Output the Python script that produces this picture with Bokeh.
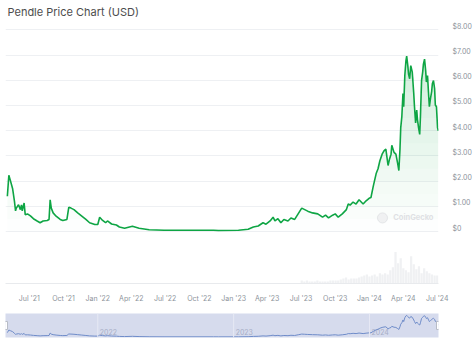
from datetime import datetime
import numpy as np
import pandas as pd
from bokeh.plotting import figure
from bokeh.models import (Range1d, FixedTicker, CustomJSTickFormatter, DatetimeTickFormatter,
                          Span, Label)
from bokeh.layouts import column
from bokeh.embed import file_html
from bokeh.resources import INLINE
from bokeh.core.properties import value

# ---------------- data ----------------
price_dates = [
    "2021-05-03", "2021-05-07", "2021-05-11", "2021-05-17", "2021-05-22", "2021-05-25",
    "2021-05-27", "2021-06-02", "2021-06-07", "2021-06-10", "2021-06-12", "2021-06-17",
    "2021-06-20", "2021-06-26", "2021-07-04", "2021-07-12", "2021-07-22", "2021-07-30",
    "2021-08-07", "2021-08-18", "2021-08-23", "2021-08-26", "2021-08-29", "2021-09-03",
    "2021-09-11", "2021-09-22", "2021-09-29", "2021-10-10", "2021-10-15", "2021-10-21",
    "2021-10-29", "2021-11-08", "2021-11-19", "2021-11-30", "2021-12-10", "2021-12-24",
    "2022-01-01", "2022-01-06", "2022-01-14", "2022-01-22", "2022-01-27", "2022-02-07",
    "2022-02-20", "2022-02-28", "2022-03-14", "2022-04-04", "2022-04-22", "2022-05-19",
    "2022-06-28", "2022-09-03", "2022-11-08", "2022-11-21", "2023-01-14", "2023-02-09",
    "2023-02-23", "2023-03-08", "2023-03-21", "2023-03-29", "2023-04-09", "2023-04-17",
    "2023-04-22", "2023-04-30", "2023-05-08", "2023-05-16", "2023-05-27", "2023-06-04",
    "2023-06-14", "2023-06-25", "2023-07-03", "2023-07-11", "2023-07-19", "2023-08-01",
    "2023-08-15", "2023-08-28", "2023-09-05", "2023-09-13", "2023-09-24", "2023-10-01",
    "2023-10-09", "2023-10-20", "2023-10-31", "2023-11-05", "2023-11-10", "2023-11-18",
    "2023-11-26", "2023-12-04", "2023-12-15", "2023-12-23", "2023-12-31", "2024-01-05",
    "2024-01-11", "2024-01-19", "2024-01-24", "2024-01-29", "2024-02-04", "2024-02-09",
    "2024-02-14", "2024-02-20", "2024-02-24", "2024-02-28", "2024-03-01", "2024-03-07",
    "2024-03-12", "2024-03-17", "2024-03-20", "2024-03-23", "2024-03-25", "2024-03-28",
    "2024-03-31", "2024-04-02", "2024-04-05", "2024-04-08", "2024-04-10", "2024-04-13",
    "2024-04-15", "2024-04-18", "2024-04-21", "2024-04-25", "2024-04-29", "2024-05-01",
    "2024-05-04", "2024-05-07", "2024-05-09", "2024-05-12", "2024-05-15", "2024-05-17",
    "2024-05-20", "2024-05-23", "2024-05-25", "2024-05-28", "2024-05-31", "2024-06-02",
    "2024-06-05", "2024-06-08", "2024-06-10", "2024-06-13", "2024-06-16", "2024-06-18",
    "2024-06-21", "2024-06-24", "2024-06-26", "2024-06-29", "2024-07-02", "2024-07-04",
]
prices = [
    1.40, 2.23, 2.03, 1.71, 1.21, 0.82,
    0.93, 1.06, 0.87, 1.06, 0.82, 1.13,
    0.67, 0.70, 0.62, 0.51, 0.42, 0.35,
    0.42, 0.44, 0.48, 1.26, 0.93, 0.74,
    0.61, 0.48, 0.44, 0.48, 0.96, 0.93,
    0.87, 0.74, 0.61, 0.48, 0.35, 0.28,
    0.28, 0.57, 0.44, 0.35, 0.42, 0.30,
    0.26, 0.18, 0.13, 0.21, 0.13, 0.07,
    0.05, 0.05, 0.05, 0.04, 0.05, 0.09,
    0.18, 0.22, 0.35, 0.29, 0.42, 0.57,
    0.42, 0.51, 0.35, 0.48, 0.42, 0.54,
    0.48, 0.74, 0.93, 0.87, 0.81, 0.74,
    0.70, 0.57, 0.65, 0.54, 0.65, 0.70,
    0.57, 0.70, 0.87, 1.09, 1.05, 1.17,
    1.09, 1.26, 1.09, 1.22, 1.32, 1.35,
    1.78, 2.30, 2.49, 2.81, 3.07, 3.20,
    3.27, 2.62, 2.88, 3.07, 3.42, 3.14,
    3.07, 2.68, 2.42, 3.27, 4.11, 4.56,
    5.47, 4.95, 6.19, 6.77, 6.96, 6.58,
    6.25, 6.06, 6.58, 6.32, 5.47, 4.95,
    4.31, 4.82, 4.44, 4.11, 3.85, 4.56,
    5.99, 6.32, 6.64, 6.84, 6.38, 5.93,
    6.19, 5.41, 4.95, 5.28, 5.54, 5.86,
    5.99, 5.67, 5.02, 4.95, 4.11, 4.00,
]

vol_dates = list(pd.date_range("2023-07-03", "2024-07-01", freq="7D").strftime("%Y-%m-%d"))
volumes = [  # USD millions (estimated)
    30, 20, 30, 20, 20, 20, 30, 20, 20, 20, 20, 30, 30, 30, 30, 40,
    50, 60, 40, 50, 50, 50, 60, 70, 80, 90, 70, 80, 90, 70, 100, 90,
    100, 90, 130, 160, 310, 200, 250, 150, 130, 110, 270, 190, 140, 170,
    100, 150, 120, 100, 90, 80, 80,
][:len(vol_dates)]

x_tick_dates = ["2021-07-01", "2021-10-01", "2022-01-01", "2022-04-01", "2022-07-01",
                "2022-10-01", "2023-01-01", "2023-04-01", "2023-07-01", "2023-10-01",
                "2024-01-01", "2024-04-01", "2024-07-01"]
y_ticks = [0, 1, 2, 3, 4, 5, 6, 7, 8]
nav_years = ["2022-01-01", "2023-01-01", "2024-01-01"]
nav_year_labels = ["2022", "2023", "2024"]

TITLE = "Pendle Price Chart (USD)"

# ---------------- helpers ----------------
def to_ms(s):
    return (datetime.fromisoformat(s) - datetime(1970, 1, 1)).total_seconds() * 1000.0

dts = pd.to_datetime(price_dates)
p_arr = np.array(prices)
vdts = pd.to_datetime(vol_dates)

FONT = "Inter"
GREEN = "#0ea544"
LABEL_C = "#8d939b"

x_start = datetime(2021, 4, 28)
x_end = datetime(2024, 7, 4, 12)

# ---------------- main chart ----------------
p = figure(width=474, height=305, x_axis_type="datetime", y_axis_location="right",
           x_range=Range1d(x_start, x_end), y_range=Range1d(-2.06, 8.33),
           toolbar_location=None, output_backend="svg",
           min_border_left=5, min_border_right=32, min_border_top=20, min_border_bottom=18)
p.outline_line_color = None
p.background_fill_color = "white"
p.border_fill_color = "white"

p.title.text = TITLE
p.title.text_font = FONT
p.title.text_font_size = "11px"
p.title.text_font_style = "normal"
p.title.text_color = "#4d4d4d"
p.title.offset = 2
p.title.standoff = 5

p.extra_y_ranges = {"vol": Range1d(0, max(volumes) * 8.34)}

# volume
p.vbar(x=vdts, top=volumes, width=6 * 86400000, y_range_name="vol",
       fill_color="#f0f1f3", line_color=None)

# gradient area (stacked bands)
step = 0.5
for i in range(16):
    lo = i * step
    top = np.clip(p_arr, lo, lo + step)
    p.varea(x=dts, y1=lo, y2=top, fill_color=GREEN, fill_alpha=0.028 * (lo + step / 2))

# watermark
p.scatter([datetime(2024, 2, 5)], [0.54], size=10, fill_color="#f0f1f2",
          line_color="#e4e6e8", line_width=1)
p.add_layout(Label(x=to_ms("2024-03-05"), y=0.54, text="CoinGecko", text_font=FONT,
                   text_font_size="7.5px", text_font_style="bold", text_color="#dfe1e4",
                   text_baseline="middle"))

p.line(dts, prices, line_color=GREEN, line_width=1.6)

# axes
xa = p.xaxis[0]
xa.ticker = FixedTicker(ticks=[to_ms(d) for d in x_tick_dates])
xa.formatter = DatetimeTickFormatter(months="%b '%y", days="%b '%y", years="%b '%y")
xa.major_tick_line_color = None
xa.minor_tick_line_color = None
xa.axis_line_color = "#e8eaed"
xa.major_label_text_font = FONT
xa.major_label_text_font_size = "7px"
xa.major_label_text_color = LABEL_C
xa.major_label_standoff = 4

ya = p.yaxis[0]
shift = 0.14
ya.ticker = FixedTicker(ticks=[t + shift for t in y_ticks])
ya.formatter = CustomJSTickFormatter(
    code="const v = Math.round(tick - 0.14); return v === 0 ? '$0' : '$' + v.toFixed(2);")
ya.axis_line_color = None
ya.major_tick_line_color = None
ya.minor_tick_line_color = None
ya.major_label_text_font = FONT
ya.major_label_text_font_size = "7px"
ya.major_label_text_color = LABEL_C
ya.major_label_standoff = 8

p.xgrid.visible = False
p.ygrid[0].ticker = FixedTicker(ticks=y_ticks)
p.ygrid[0].grid_line_color = "#eef0f3"

# ---------------- navigator ----------------
nav = figure(width=474, height=40, x_axis_type="datetime",
             x_range=Range1d(x_start, x_end), y_range=Range1d(-0.17, 7.55),
             x_axis_location=None, y_axis_location=None,
             toolbar_location=None, output_backend="svg",
             min_border_left=5, min_border_right=32, min_border_top=8, min_border_bottom=8)
nav.outline_line_color = None
nav.background_fill_color = "#d6dbed"
nav.border_fill_color = "white"
nav.xgrid.visible = False
nav.ygrid.visible = False

for d in nav_years:
    nav.add_layout(Span(location=to_ms(d), dimension="height",
                        line_color="#e6e9f4", line_width=1))
nav.text(x=pd.to_datetime(nav_years), y=[1.76] * len(nav_years), text=nav_year_labels,
         x_offset=2, text_font=value(FONT), text_font_size="7px",
         text_color="#a7aec6", text_baseline="middle")

nav.line(dts, prices, line_color="#6f8cc9", line_width=1)

nav.rect(x=[x_start, x_end], y=[3.7, 3.7], width=4, height=8,
         width_units="screen", height_units="screen",
         fill_color="white", line_color="#b8bcc6", line_width=1)

layout = column(p, nav)
open("out.html", "w").write(file_html(layout, INLINE))
